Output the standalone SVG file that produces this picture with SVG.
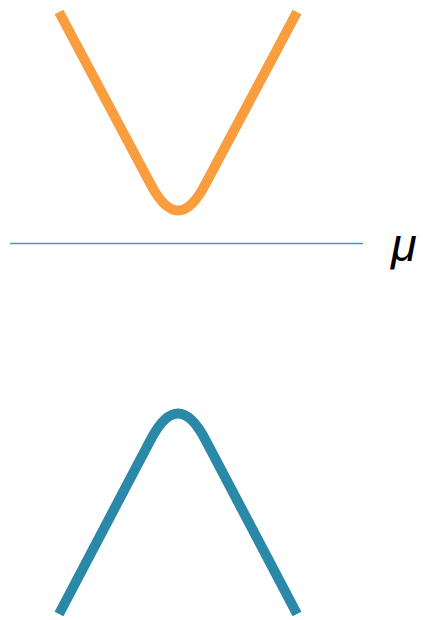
<svg xmlns="http://www.w3.org/2000/svg" width="423" height="620" viewBox="0 0 423 620">
<style>
.curve{fill:none;stroke-width:10;stroke-linecap:butt;stroke-linejoin:round}
</style>
<rect width="423" height="620" fill="#ffffff"/>
<g id="upper-band">
<path class="curve" stroke="#FA9D3E" d="M59,12 L150,183 Q178,238 206,183 L297,12"/>
</g>
<g id="fermi-level">
<line x1="10" y1="243.5" x2="363" y2="243.5" stroke="#4A90E2" stroke-width="1.3"/>
<text x="391" y="261" font-family="Liberation Sans, Arial, sans-serif" font-style="italic" font-size="47" fill="#000">μ</text>
</g>
<g id="lower-band">
<path class="curve" stroke="#2A89A8" d="M59,614 L150,441 Q178,386 206,441 L297,614"/>
</g>
</svg>
